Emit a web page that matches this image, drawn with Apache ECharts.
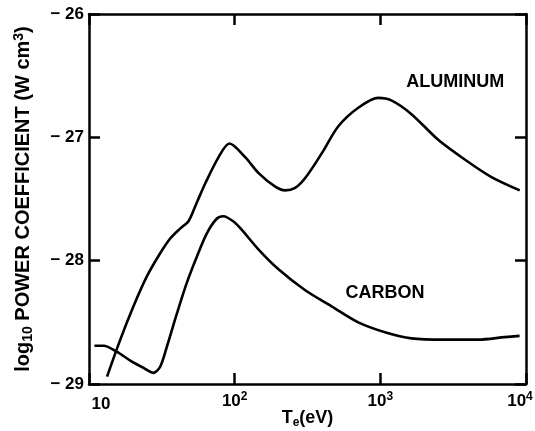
<!DOCTYPE html>
<html>
<head>
<meta charset="utf-8">
<script src="https://cdn.jsdelivr.net/npm/echarts@6/dist/echarts.min.js"></script>
<style>
  html, body { margin: 0; padding: 0; background: #fff; }
  #main { width: 535px; height: 431px; }
</style>
</head>
<body>
<div id="main"></div>
<script>
// electron temperature (eV) and log10 power coefficient
const alTe = [13.3, 16.4, 20.2, 24.9, 30.8, 36.1, 42.2, 48.2, 54.9, 63.0, 77.6, 92.0, 118, 146, 190, 222, 260, 305, 396, 515, 706, 968, 1189, 1629, 2495, 3802, 5754, 9057];
const alP = [-28.94, -28.64, -28.37, -28.13, -27.94, -27.82, -27.74, -27.68, -27.53, -27.37, -27.16, -27.05, -27.16, -27.29, -27.40, -27.43, -27.41, -27.33, -27.13, -26.91, -26.76, -26.68, -26.70, -26.81, -27.02, -27.18, -27.32, -27.43];
const cTe = [10.9, 12.6, 15.6, 19.2, 23.7, 27.7, 30.8, 34.2, 40.1, 46.9, 54.9, 64.3, 75.3, 83.7, 100, 112, 146, 200, 305, 463, 706, 1076, 1637, 2773, 4688, 7145, 9036];
const cP = [-28.69, -28.69, -28.74, -28.81, -28.87, -28.91, -28.86, -28.70, -28.43, -28.18, -27.97, -27.78, -27.66, -27.64, -27.69, -27.75, -27.91, -28.07, -28.24, -28.37, -28.50, -28.58, -28.63, -28.64, -28.64, -28.62, -28.61];
const xTicks = [10, 100, 1000, 10000];
const yTicks = [-29, -28, -27, -26];
const labelAl = { name: 'ALUMINUM', at: [3266, -26.55] };
const labelC = { name: 'CARBON', at: [1076, -28.26] };

const font = '"Liberation Sans", Arial, sans-serif';
const pairs = (xs, ys) => xs.map((x, i) => [x, ys[i]]);

const chart = echarts.init(document.getElementById('main'));

const tick = { show: true, inside: true, length: 11, lineStyle: { color: '#000', width: 2.5 } };
const line = { show: true, lineStyle: { color: '#000', width: 2.5 } };
const txt = (size, extra) => Object.assign({ fontFamily: font, fontSize: size, fontWeight: 'bold', color: '#000' }, extra || {});

const textMark = (lab) => ({
  symbol: 'circle', symbolSize: 0, silent: true,
  label: { show: true, position: 'inside', formatter: lab.name, fontFamily: font, fontSize: 18, fontWeight: 'bold', color: '#000' },
  data: [{ coord: lab.at }]
});

// first and last tick labels sit inside the page in the original
const xLabel = (v) => {
  if (v === xTicks[0]) return '{f|10}';
  const p = Math.round(Math.log10(v));
  return v === xTicks[xTicks.length - 1] ? '{b|10}{q|' + p + '}' : '{b|10}{p|' + p + '}';
};

chart.setOption({
  backgroundColor: '#fff',
  animation: false,
  grid: { left: 89, right: 9, top: 14, bottom: 47, containLabel: false, outerBoundsMode: 'none' },
  xAxis: [{
    type: 'log', logBase: 10, min: xTicks[0], max: xTicks[xTicks.length - 1],
    name: '{b|T}{s|e}{b|(eV)}', nameLocation: 'middle', nameGap: 24, nameMoveOverlap: false,
    nameTextStyle: { rich: { b: txt(18), s: txt(12, { padding: [9, 0, 0, 0] }) } },
    axisLine: line, axisTick: tick, splitLine: { show: false }, minorTick: { show: false },
    axisLabel: {
      margin: 7,
      formatter: xLabel,
      rich: {
        b: txt(17),
        f: txt(17, { padding: [5, 0, 0, 24] }),
        p: txt(12, { padding: [0, 0, 9, 0] }),
        q: txt(12, { padding: [0, 12, 9, 0] })
      }
    }
  }, {
    type: 'log', logBase: 10, min: xTicks[0], max: xTicks[xTicks.length - 1], position: 'top',
    axisLine: line, axisTick: tick, axisLabel: { show: false }, splitLine: { show: false }
  }],
  yAxis: [{
    type: 'value', min: yTicks[0], max: yTicks[yTicks.length - 1], interval: 1,
    name: '{b|log}{s|10}{b| POWER COEFFICIENT (W cm}{p|3}{b|)}', nameLocation: 'middle', nameGap: 54, nameMoveOverlap: false,
    nameTextStyle: { rich: { b: txt(20), s: txt(14, { padding: [9, 0, 0, 0] }), p: txt(14, { padding: [0, 0, 9, 0] }) } },
    axisLine: line, axisTick: tick, splitLine: { show: false },
    axisLabel: Object.assign(txt(17), { margin: 5, formatter: (v) => '\u2212 ' + Math.abs(v) })
  }, {
    type: 'value', min: yTicks[0], max: yTicks[yTicks.length - 1], interval: 1, position: 'right',
    axisLine: line, axisTick: tick, axisLabel: { show: false }, splitLine: { show: false }
  }],
  series: [{
    name: 'Aluminum', type: 'line', smooth: 0.3, showSymbol: false,
    lineStyle: { color: '#000', width: 2.6 },
    data: pairs(alTe, alP),
    markPoint: textMark(labelAl)
  }, {
    name: 'Carbon', type: 'line', smooth: 0.3, showSymbol: false,
    lineStyle: { color: '#000', width: 2.6 },
    data: pairs(cTe, cP),
    markPoint: textMark(labelC)
  }]
});
</script>
</body>
</html>
